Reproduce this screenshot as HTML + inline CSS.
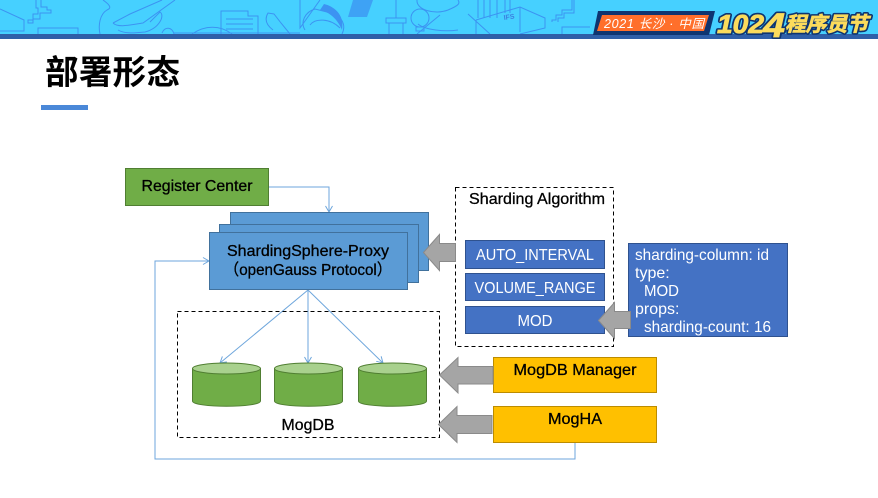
<!DOCTYPE html>
<html><head><meta charset="utf-8"><style>
html,body{margin:0;padding:0;background:#fff;width:878px;height:498px;overflow:hidden}
svg{display:block}
text{font-family:"Liberation Sans","Noto Sans CJK SC",sans-serif}
.l{font-size:16px;fill:#000;stroke:#000;stroke-width:.3}
.w{font-size:16px;fill:#fff}
</style></head><body>
<svg width="878" height="498" viewBox="0 0 878 498" xmlns="http://www.w3.org/2000/svg">
<defs>
<marker id="a" markerUnits="userSpaceOnUse" markerWidth="10" markerHeight="10" refX="8" refY="5" orient="auto"><path d="M2 1.500L8 5L2 8.500" fill="none" stroke="#6ea6dc" stroke-width="1"/></marker>
</defs>
<!-- banner -->
<rect x="0" y="0" width="878" height="34" fill="#46d0ff"/>
<g fill="none" stroke="#3c93f2" stroke-width="1">
<path d="M0 9L24 20V31H0"/>
<path d="M41 0V7H47V10H51V13H40V19H33V23H28V20H33V14H38V8H36V0"/>
<path d="M38 34V28H78V34"/>
<path d="M103 0C110 5 112 8 107 10C100 14 98 25 100 34M113 23C118 28 130 25 143 23L175 0M130 14L162 0M113 23L130 14M118 30C125 34 135 33 145 32C160 28 165 15 160 12L150 22M162 33C165 26 172 27 174 34"/>
<path d="M221 34V11H248V16H258V34M226 19H253M226 24H253M226 29H253"/>
<path d="M192 34C205 25 220 25 232 34"/>
<path d="M273 30C265 24 265 18 268 13L274 14L281 23L290 34M174 33H300"/>
<path d="M300 0V28L320 0M305 30C300 22 305 12 315 9L335 14C345 20 345 28 342 34M310 25C315 18 330 18 340 28"/>
<path d="M396 0V18M386 18H406V23H386ZM389 23V34M403 23V34"/>
<ellipse cx="420" cy="18" rx="9" ry="9"/><path d="M416 27H424V31H416Z"/>
<path d="M417 0C416 10 435 15 448 10C460 5 460 3 458 0M418 24C425 30 445 32 458 30"/>
<path d="M417 34L440 15M468 14L490 34"/>
<path d="M478 0V18M484 0V18M490 0V18M497 0V18M505 0V13M510 0V13"/>
<path d="M476 20L520 7L545 18V28L520 34M476 20V34M520 7V32"/>
<path d="M552 22V20H556V15H562V10H572V0M558 22V18H564V13H574V0"/>
<path d="M562 34V27H590"/>
</g>
<path d="M353 0H373L367 17H348ZM349 9H372" fill="#3c93f2" opacity=".75"/>
<text x="504" y="20" font-size="7" font-weight="bold" fill="#3c7fe0" transform="rotate(-8 504 20)">IFS</text>
<path d="M324 4C333 6 345 14 342 30C338 20 330 12 320 10Z" fill="#3c93f2"/>
<rect x="0" y="34" width="878" height="5" fill="#2f5fa8"/>
<!-- badge -->
<path d="M598 11H715L709 35H593Z" fill="#0e3470"/>
<path d="M602 15H709L704 31H597Z" fill="#ff6f2b"/>
<text x="604" y="28" font-size="12.500" font-style="italic" fill="#fff" textLength="100">2021 长沙 · 中国</text>
<g font-weight="bold" font-style="italic" stroke="#0e3470" stroke-width="4" paint-order="stroke" fill="#fbdb5c" stroke-linejoin="round">
<text x="717" y="33" font-size="26" textLength="47" lengthAdjust="spacingAndGlyphs">102</text>
<text x="763" y="37" font-size="34" textLength="22" lengthAdjust="spacingAndGlyphs">4</text>
<text x="785" y="31" font-size="20" textLength="83" lengthAdjust="spacingAndGlyphs">程序员节</text>
</g>
<g font-weight="bold" font-style="italic" stroke="#fbdb5c" stroke-width=".8" fill="#fbdb5c">
<text x="717" y="33" font-size="26" textLength="47" lengthAdjust="spacingAndGlyphs">102</text>
<text x="763" y="37" font-size="34" textLength="22" lengthAdjust="spacingAndGlyphs">4</text>
<text x="785" y="31" font-size="20" textLength="83" lengthAdjust="spacingAndGlyphs">程序员节</text>
</g>
<!-- title -->
<text x="45" y="84" font-size="33.500" font-weight="bold" fill="#000" textLength="135" style="font-family:'Noto Sans CJK SC',sans-serif">部署形态</text>
<rect x="41" y="105" width="47" height="5" fill="#4a88d8"/>
<!-- connectors -->
<g fill="none" stroke="#6ea6dc" stroke-width="1">
<path d="M269 187H329V212" marker-end="url(#a)"/>
<path d="M575 442V459H155V261H209" marker-end="url(#a)"/>
<path d="M308 290L220 363" marker-end="url(#a)"/>
<path d="M308 290V363" marker-end="url(#a)"/>
<path d="M308 290L383 363" marker-end="url(#a)"/>
</g>
<!-- register -->
<rect x="125.500" y="168.500" width="143" height="37" fill="#70ad47" stroke="#507e32"/>
<text class="l" x="197" y="191" text-anchor="middle" textLength="111" lengthAdjust="spacingAndGlyphs">Register Center</text>
<!-- proxy stack -->
<g fill="#5b9bd5" stroke="#41719c">
<rect x="230.500" y="212.500" width="198" height="58"/>
<rect x="219.500" y="224.500" width="199" height="58"/>
<rect x="209.500" y="232.500" width="198" height="57"/>
</g>
<text class="l" x="308" y="256" text-anchor="middle" textLength="162" lengthAdjust="spacingAndGlyphs">ShardingSphere-Proxy</text>
<text class="l" x="308" y="275" text-anchor="middle" textLength="168" lengthAdjust="spacingAndGlyphs">（openGauss Protocol）</text>
<!-- sharding -->
<rect x="455.500" y="187.500" width="158" height="159" fill="none" stroke="#000" stroke-dasharray="4 3"/>
<text class="l" x="537" y="204" text-anchor="middle" textLength="136" lengthAdjust="spacingAndGlyphs">Sharding Algorithm</text>
<g fill="#4472c4" stroke="#2f528f">
<rect x="465.500" y="240.500" width="139" height="28"/>
<rect x="465.500" y="273.500" width="139" height="27"/>
<rect x="465.500" y="306.500" width="139" height="27"/>
<rect x="628.500" y="243.500" width="159" height="93"/>
</g>
<text class="w" x="535" y="260" text-anchor="middle" textLength="118" lengthAdjust="spacingAndGlyphs">AUTO_INTERVAL</text>
<text class="w" x="535" y="293" text-anchor="middle" textLength="121" lengthAdjust="spacingAndGlyphs">VOLUME_RANGE</text>
<text class="w" x="535" y="326" text-anchor="middle" textLength="35" lengthAdjust="spacingAndGlyphs">MOD</text>
<text class="w" x="635" y="260" textLength="134" lengthAdjust="spacingAndGlyphs">sharding-column: id</text>
<text class="w" x="635" y="278">type:</text>
<text class="w" x="644" y="296" textLength="35" lengthAdjust="spacingAndGlyphs">MOD</text>
<text class="w" x="635" y="314">props:</text>
<text class="w" x="644" y="332" textLength="127" lengthAdjust="spacingAndGlyphs">sharding-count: 16</text>
<!-- mogdb -->
<rect x="177.500" y="311.500" width="262" height="126" fill="none" stroke="#000" stroke-dasharray="4 3"/>
<g stroke="#507e32" fill="#70ad47">
<path d="M192.500 368.500V401C192.500 408 260.500 408 260.500 401V368.500Z"/><ellipse cx="226.500" cy="368.500" rx="34" ry="5.500" fill="#a9d18e"/>
<path d="M274.500 368.500V401C274.500 408 342.500 408 342.500 401V368.500Z"/><ellipse cx="308.500" cy="368.500" rx="34" ry="5.500" fill="#a9d18e"/>
<path d="M358.500 368.500V401C358.500 408 426.500 408 426.500 401V368.500Z"/><ellipse cx="392.500" cy="368.500" rx="34" ry="5.500" fill="#a9d18e"/>
</g>
<text class="l" x="308" y="430" text-anchor="middle" textLength="53" lengthAdjust="spacingAndGlyphs">MogDB</text>
<!-- gold -->
<g fill="#ffc000" stroke="#bc8c00">
<rect x="493.500" y="357.500" width="163" height="35"/>
<rect x="493.500" y="406.500" width="163" height="36"/>
</g>
<text class="l" x="575" y="375" text-anchor="middle" textLength="123" lengthAdjust="spacingAndGlyphs">MogDB Manager</text>
<text class="l" x="575" y="424" text-anchor="middle" textLength="54" lengthAdjust="spacingAndGlyphs">MogHA</text>
<!-- block arrows -->
<g fill="#a5a5a5" stroke="#8a8a8a">
<path d="M423.500 252.500L439.500 234.500V243.500H455.500V261.500H439.500V270.500Z"/>
<path d="M598.500 320.500L614.500 302.500V311.500H630.500V328.500H614.500V338.500Z"/>
<path d="M439.500 375L458 357.500V366.500H493V384H458V393Z"/>
<path d="M438.500 424.500L457 406.500V415.500H492V433.500H457V442.500Z"/>
</g>
</svg>
</body></html>
